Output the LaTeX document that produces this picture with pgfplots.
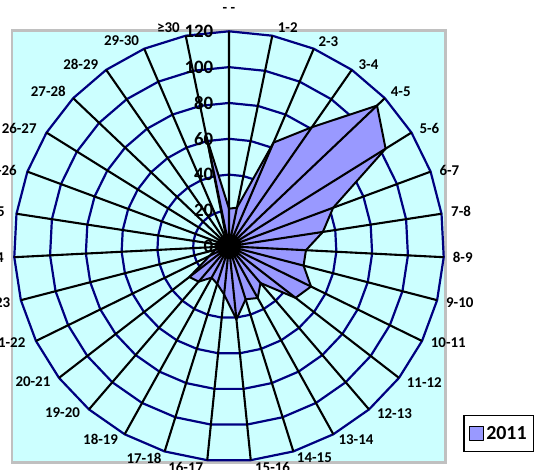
\documentclass[border=0pt]{standalone}
\usepackage{pgfplots}
\usepackage{pgfplotstable}
\usepackage{fontspec}
\setmainfont{Carlito}
\usepgfplotslibrary{polar}
\pgfplotsset{compat=1.18}
\definecolor{bgcyan}{HTML}{CCFFFF}
\definecolor{ringc}{HTML}{000080}
\definecolor{serfill}{HTML}{9999FF}
\definecolor{plotborder}{HTML}{C0C0C0}
\pgfplotstableread{
a r
90 21
78.387 22
66.774 63
55.161 81
43.548 114
31.935 103
20.323 62
8.710 53
357.097 43
345.484 43
333.871 51
322.258 47
310.645 27
299.032 33
287.419 31
275.806 41
264.194 27
252.581 22
240.968 20
229.355 26
217.742 28
206.129 12
194.516 8
182.903 6
171.290 8
159.677 6
148.065 5
136.452 4
124.839 3
113.226 3
101.613 62
90 21
}\datatab
\newcommand\lab[5]{\node[anchor=#2,inner sep=0pt,font=\bfseries\fontsize{15}{15}\selectfont,xshift=#3bp,yshift=#4bp] at (axis cs:#1,120) {#5};}
\newcommand\rlab[1]{\node[anchor=east,inner sep=0pt,font=\bfseries\fontsize{19}{19}\selectfont,text=black,xshift=-15.5bp] at (axis cs:90,#1) {#1};}
\begin{document}
\begin{tikzpicture}
\useasboundingbox (-229bp,-223.7bp) rectangle (307bp,246.3bp);
\clip (-229bp,-223.7bp) rectangle (307bp,246.3bp);
\draw[fill=bgcyan,draw=plotborder,line width=2.5bp] (-217bp,-216.4bp) rectangle (216.5bp,215.6bp);
\begin{polaraxis}[
  at={(0,0)}, anchor=center,
  width=430bp, height=430bp, scale only axis,
  ymin=0, ymax=120, xmin=0, xmax=360,
  clip=false,
  axis on top,
  axis line style={draw=none},
  tick style={draw=none},
  xtick={90,78.387,66.774,55.161,43.548,31.935,20.323,8.710,357.097,345.484,333.871,322.258,310.645,299.032,287.419,275.806,264.194,252.581,240.968,229.355,217.742,206.129,194.516,182.903,171.290,159.677,148.065,136.452,124.839,113.226,101.613},
  xticklabels={},
  ytick=\empty,
  xmajorgrids=true, ymajorgrids=false,
  major grid style={draw=black,line width=2.1bp},
  legend style={at={(1.0442,0.0216)},anchor=south west,draw=black,line width=1.5bp,
    font=\bfseries\fontsize{20}{20}\selectfont,inner xsep=5bp,inner ysep=8.5bp,
    legend cell align=left},
  legend image code/.code={\draw[fill=serfill,draw=black,line width=1.5bp] (0bp,-7bp) rectangle (14bp,7bp);},
]
\addplot[ringc,line width=2.2bp,forget plot] table[x=a,y expr=20] {\datatab};
\addplot[ringc,line width=2.2bp,forget plot] table[x=a,y expr=40] {\datatab};
\addplot[ringc,line width=2.2bp,forget plot] table[x=a,y expr=60] {\datatab};
\addplot[ringc,line width=2.2bp,forget plot] table[x=a,y expr=80] {\datatab};
\addplot[ringc,line width=2.2bp,forget plot] table[x=a,y expr=100] {\datatab};
\addplot[ringc,line width=2.2bp,forget plot] table[x=a,y expr=120] {\datatab};
\addplot[draw=black,fill=serfill,line width=2bp,line join=round] table[x=a,y=r] {\datatab};
\addlegendentry{2011}
\lab{90}{base}{0}{19}{- -}
\lab{78.387}{south west}{5.4}{2.7}{1-2}
\lab{66.774}{south west}{4.6}{2}{2-3}
\lab{55.161}{south west}{6.6}{0}{3-4}
\lab{43.548}{south west}{5.9}{1.5}{4-5}
\lab{31.935}{west}{7.9}{4.6}{5-6}
\lab{20.323}{west}{8.7}{1.6}{6-7}
\lab{8.710}{west}{9.5}{2}{7-8}
\lab{357.097}{west}{9}{0}{8-9}
\lab{345.484}{west}{8.8}{-2.8}{9-10}
\lab{333.871}{west}{8.7}{-2}{10-11}
\lab{322.258}{north west}{7.7}{0}{11-12}
\lab{310.645}{north west}{7.8}{1.3}{12-13}
\lab{299.032}{north west}{5}{-0.7}{13-14}
\lab{287.419}{north west}{3.4}{-1.5}{14-15}
\lab{275.806}{north west}{4.2}{-1.8}{15-16}
\lab{264.194}{north east}{-3.9}{-1.8}{16-17}
\lab{252.581}{north east}{-3}{-1.2}{17-18}
\lab{240.968}{north east}{-6.4}{0}{18-19}
\lab{229.355}{north east}{-8.8}{1.6}{19-20}
\lab{217.742}{north east}{-8.4}{1.2}{20-21}
\lab{206.129}{east}{-10.4}{-1.5}{21-22}
\lab{194.516}{east}{-10.5}{-2.8}{22-23}
\lab{182.903}{east}{-10.3}{0}{23-24}
\lab{171.290}{east}{-11.5}{2}{24-25}
\lab{159.677}{east}{-10.4}{1.6}{25-26}
\lab{148.065}{east}{-9.7}{4.6}{26-27}
\lab{136.452}{south east}{-7.2}{1.5}{27-28}
\lab{124.839}{south east}{-7.8}{0}{28-29}
\lab{113.226}{south east}{-5}{3}{29-30}
\lab{101.613}{south east}{-5.7}{2.7}{≥30}
\rlab{0}
\rlab{20}
\rlab{40}
\rlab{60}
\rlab{80}
\rlab{100}
\rlab{120}
\end{polaraxis}
\end{tikzpicture}
\end{document}
